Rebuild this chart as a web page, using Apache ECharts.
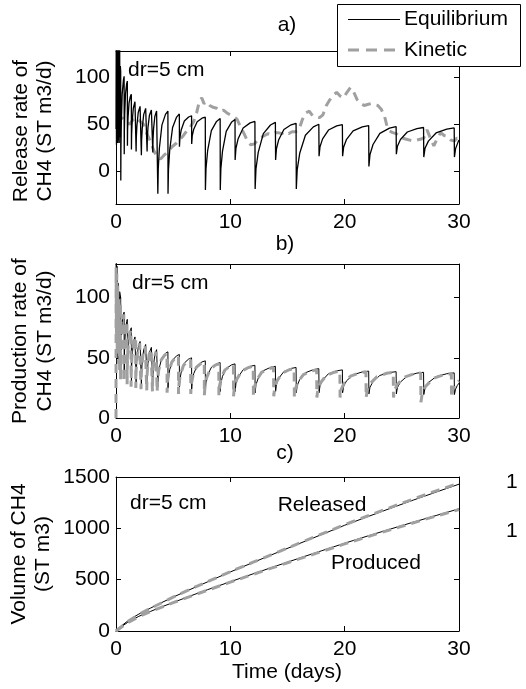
<!DOCTYPE html>
<html>
<head>
<meta charset="utf-8">
<script src="https://cdn.jsdelivr.net/npm/echarts@6/dist/echarts.min.js"></script>
<style>
html, body { margin: 0; padding: 0; background: #fff; }
#chart { width: 526px; height: 689px; }
</style>
</head>
<body>
<div id="chart"></div>
<script>
// tick labels
const xTicks = [0, 10, 20, 30];
const yTicksA = [0, 50, 100];
const yTicksB = [0, 50, 100];
const yTicksC = [0, 500, 1000, 1500];

// a) release rate, equilibrium  [day, ST m3/d]
const relEq = [
  [0, 45], [0.02, 140], [0.04, 28], [0.07, 140], [0.09, 31], [0.12, 140], [0.15, 30], [0.18, 140],
  [0.21, 33], [0.25, 140], [0.28, 30], [0.32, 135], [0.35, 36], [0.38, 112], [0.41, 106],
  [0.42, -10], [0.432, 23.3], [0.465, 51], [0.54, 82], [0.645, 96.6], [0.71, 101],
  [0.72, 18], [0.731, 41.4], [0.762, 60.9], [0.832, 82.7], [0.93, 92.9], [0.99, 96],
  [1.0, 27], [1.014, 43.5], [1.053, 57.3], [1.14, 72.7], [1.263, 79.8], [1.34, 82],
  [1.35, 23], [1.366, 38.9], [1.412, 52.2], [1.514, 67], [1.658, 73.9], [1.75, 76],
  [1.76, 21], [1.778, 36], [1.829, 48.5], [1.944, 62.5], [2.105, 69], [2.21, 71],
  [2.22, 17], [2.24, 32.6], [2.295, 45.6], [2.42, 60.2], [2.595, 66.9], [2.71, 69],
  [2.72, 21], [2.74, 34.8], [2.795, 46.3], [2.92, 59.2], [3.095, 65.2], [3.21, 67],
  [3.22, 20], [3.238, 33.8], [3.286, 45.3], [3.396, 58.2], [3.55, 64.2], [3.65, 66],
  [3.66, -24], [3.696, 2.4], [3.794, 24.4], [4.016, 49], [4.328, 60.5], [4.54, 64],
  [4.55, -24], [4.59, 1.5], [4.7, 22.8], [4.95, 46.6], [5.3, 57.6], [5.54, 61],
  [5.55, 26], [5.593, 35.9], [5.71, 44.2], [5.978, 53.4], [6.353, 57.7], [6.61, 59],
  [6.62, 29], [6.668, 37.6], [6.8, 44.7], [7.1, 52.7], [7.52, 56.4], [7.81, 57.5],
  [7.82, -20], [7.872, 2.8], [8.015, 21.8], [8.34, 43.1], [8.795, 53], [9.11, 56],
  [9.12, -20], [9.172, 2.5], [9.315, 21.3], [9.64, 42.3], [10.095, 52], [10.41, 55],
  [10.42, 12], [10.49, 24.3], [10.683, 34.6], [11.12, 46], [11.733, 51.4], [12.15, 53],
  [12.17, -19], [12.242, 2.3], [12.439, 20], [12.886, 39.9], [13.513, 49.2], [13.94, 52],
  [13.96, 12], [14.032, 23.7], [14.232, 33.5], [14.684, 44.4], [15.318, 49.4], [15.75, 51],
  [15.77, -19], [15.85, 1.7], [16.069, 19], [16.566, 38.3], [17.263, 47.2], [17.74, 50],
  [17.76, 16], [17.842, 26], [18.069, 34.4], [18.584, 43.8], [19.305, 48.2], [19.8, 49.5],
  [19.82, 16], [19.912, 25.8], [20.165, 33.9], [20.74, 43], [21.545, 47.2], [22.1, 48.5],
  [22.12, 5], [22.216, 17.8], [22.48, 28.4], [23.08, 40.3], [23.92, 45.8], [24.5, 47.5],
  [24.52, 18], [24.616, 26.6], [24.88, 33.7], [25.48, 41.7], [26.32, 45.4], [26.9, 46.5],
  [26.92, 15], [27.027, 24.3], [27.322, 32], [27.992, 40.7], [28.93, 44.8], [29.58, 46],
  [29.6, 15], [29.7, 24], [29.95, 32], [30, 33]
];

// a) release rate, kinetic
const relKin = [
  [0.1, 62], [0.3, 58], [0.6, 56], [0.9, 52], [1.2, 50], [1.5, 55], [1.8, 57], [2.1, 53],
  [2.4, 50], [2.7, 40], [3.0, 32], [3.3, 22], [3.6, 15], [3.9, 13], [4.2, 17], [4.5, 20],
  [4.9, 26], [5.3, 30], [5.6, 34], [5.9, 38], [6.2, 43], [6.5, 47], [6.8, 53], [7.05, 62],
  [7.3, 75], [7.5, 78], [7.7, 72], [7.9, 74], [8.2, 70], [8.5, 68], [8.8, 67], [9.1, 64],
  [9.4, 65], [9.7, 62], [10.0, 60], [10.3, 58], [10.6, 55], [10.9, 47], [11.2, 40], [11.5, 32],
  [11.8, 28], [12.1, 29], [12.4, 33], [12.7, 36], [13.0, 38], [13.3, 40], [13.6, 39], [13.9, 41],
  [14.2, 41], [14.5, 40], [14.8, 42], [15.1, 40], [15.4, 42], [15.7, 42], [16.0, 44], [16.3, 55],
  [16.6, 62], [16.9, 64], [17.2, 59], [17.5, 58], [17.8, 57], [18.1, 60], [18.4, 70], [18.7, 76],
  [19.0, 81], [19.3, 84], [19.6, 80], [19.9, 78], [20.2, 84], [20.5, 89], [20.8, 84], [21.1, 76],
  [21.4, 72], [21.7, 70], [22.0, 71], [22.3, 72], [22.6, 71], [22.9, 70], [23.2, 66], [23.5, 58],
  [23.7, 48], [23.9, 43], [24.2, 41], [24.5, 40], [24.8, 37], [25.1, 35], [25.4, 34], [25.7, 33],
  [26.0, 32], [26.3, 33], [26.6, 34], [26.9, 35], [27.2, 44], [27.5, 35], [27.8, 27], [28.1, 35],
  [28.4, 41], [28.7, 38], [29.0, 37], [29.3, 33], [29.6, 32], [29.8, 35], [30, 35]
];

// b) production rate, equilibrium
const prodEq = [
  [0, 118], [0.03, 135], [0.06, 60], [0.1, 126], [0.14, 50], [0.2, 112], [0.25, 45], [0.32, 105], [0.41, 100],
  [0.42, 38], [0.432, 53], [0.465, 65.5], [0.54, 79.5], [0.645, 86], [0.71, 88],
  [0.72, 35], [0.731, 49.1], [0.762, 60.9], [0.832, 74], [0.93, 80.1], [0.99, 82],
  [1.0, 32], [1.014, 44.9], [1.053, 55.7], [1.14, 67.7], [1.263, 73.3], [1.34, 75],
  [1.35, 30], [1.366, 41.7], [1.412, 51.5], [1.514, 62.4], [1.658, 67.4], [1.75, 69],
  [1.76, 29], [1.778, 39.8], [1.829, 48.8], [1.944, 58.9], [2.105, 63.6], [2.21, 65],
  [2.22, 28], [2.24, 38.4], [2.295, 47], [2.42, 56.6], [2.595, 61.1], [2.71, 62.5],
  [2.72, 27], [2.74, 36.9], [2.795, 45.2], [2.92, 54.4], [3.095, 58.7], [3.21, 60],
  [3.22, 27], [3.238, 36.3], [3.286, 44.1], [3.396, 52.7], [3.55, 56.8], [3.65, 58],
  [3.66, 26], [3.696, 34.7], [3.794, 42], [4.016, 50.1], [4.328, 53.8], [4.54, 55],
  [4.55, 25], [4.59, 33.3], [4.7, 40.3], [4.95, 48.1], [5.3, 51.7], [5.54, 52.8],
  [5.55, 24.5], [5.593, 32.2], [5.71, 38.5], [5.978, 45.7], [6.353, 49], [6.61, 50],
  [6.62, 24], [6.668, 31.1], [6.8, 36.9], [7.1, 43.5], [7.52, 46.6], [7.81, 47.5],
  [7.82, 23], [7.872, 29.9], [8.015, 35.7], [8.34, 42.1], [8.795, 45.1], [9.11, 46],
  [9.12, 22], [9.172, 28.9], [9.315, 34.7], [9.64, 41.1], [10.095, 44.1], [10.41, 45],
  [10.42, 22], [10.49, 28.5], [10.683, 34], [11.12, 40.1], [11.733, 42.9], [12.15, 43.8],
  [12.17, 21], [12.242, 27.6], [12.439, 33.1], [12.886, 39.3], [13.513, 42.1], [13.94, 43],
  [13.96, 22], [14.032, 28], [14.232, 33], [14.684, 38.6], [15.318, 41.2], [15.75, 42],
  [15.77, 21], [15.85, 27], [16.069, 32], [16.566, 37.6], [17.263, 40.2], [17.74, 41],
  [17.76, 21], [17.842, 26.7], [18.069, 31.5], [18.584, 36.8], [19.305, 39.2], [19.8, 40],
  [19.82, 21], [19.912, 26.4], [20.165, 30.9], [20.74, 35.9], [21.545, 38.3], [22.1, 39],
  [22.12, 20], [22.216, 25.6], [22.48, 30.2], [23.08, 35.4], [23.92, 37.8], [24.5, 38.5],
  [24.52, 20], [24.616, 25.4], [24.88, 29.9], [25.48, 34.9], [26.32, 37.3], [26.9, 38],
  [26.92, 19.5], [27.027, 24.9], [27.322, 29.4], [27.992, 34.4], [28.93, 36.8], [29.58, 37.5],
  [29.6, 19.5], [29.7, 24], [29.85, 27], [30, 29]
];

// b) production rate, kinetic
const prodKin = [
  [0, 0], [0.01, 125], [0.04, 70], [0.07, 120], [0.11, 55], [0.15, 110], [0.2, 45], [0.26, 100], [0.32, 40], [0.39, 95],
  [0.40, 32], [0.412, 48.2], [0.444, 61.7], [0.516, 76.8], [0.618, 83.8], [0.68, 86],
  [0.69, 30], [0.701, 45], [0.732, 57.5], [0.802, 71.5], [0.9, 78], [0.96, 80],
  [0.97, 28], [0.984, 41.5], [1.023, 52.8], [1.11, 65.4], [1.233, 71.2], [1.31, 73],
  [1.32, 26], [1.336, 38.5], [1.382, 48.8], [1.484, 60.4], [1.628, 65.8], [1.72, 67.5],
  [1.73, 25], [1.748, 36.6], [1.799, 46.2], [1.914, 57], [2.075, 62], [2.18, 63.5],
  [2.19, 24], [2.21, 35.1], [2.265, 44.4], [2.39, 54.7], [2.565, 59.5], [2.68, 61],
  [2.69, 23], [2.71, 33.7], [2.765, 42.5], [2.89, 52.5], [3.065, 57.1], [3.18, 58.5],
  [3.19, 22], [3.206, 32.4], [3.252, 41], [3.354, 50.6], [3.498, 55.1], [3.59, 56.5],
  [3.6, 22], [3.635, 31.5], [3.73, 39.3], [3.948, 48.1], [4.253, 52.2], [4.46, 53.5],
  [4.47, 21], [4.51, 30.2], [4.62, 37.8], [4.87, 46.3], [5.22, 50.3], [5.46, 51.5],
  [5.47, 20], [5.513, 28.6], [5.63, 35.7], [5.898, 43.7], [6.273, 47.4], [6.53, 48.5],
  [6.54, 20], [6.588, 28], [6.719, 34.6], [7.016, 42], [7.433, 45.4], [7.72, 46.5],
  [7.73, 19], [7.781, 26.8], [7.921, 33.3], [8.238, 40.6], [8.683, 44], [8.99, 45],
  [9.0, 19], [9.051, 26.5], [9.192, 32.8], [9.512, 39.8], [9.96, 43], [10.27, 44],
  [10.28, 18], [10.35, 25.5], [10.541, 31.8], [10.976, 38.8], [11.585, 42], [12.0, 43],
  [12.02, 18], [12.091, 25.2], [12.287, 31.2], [12.732, 37.9], [13.355, 41], [13.78, 42],
  [13.8, 18], [13.872, 24.9], [14.07, 30.7], [14.52, 37.1], [15.15, 40.1], [15.58, 41],
  [15.6, 17], [15.679, 23.9], [15.896, 29.7], [16.388, 36.1], [17.078, 39.1], [17.55, 40],
  [17.57, 17], [17.651, 23.6], [17.875, 29.1], [18.382, 35.3], [19.093, 38.1], [19.58, 39],
  [19.6, 17], [19.691, 23.5], [19.942, 28.8], [20.512, 34.8], [21.31, 37.6], [21.86, 38.5],
  [21.88, 17], [21.976, 23.3], [22.239, 28.6], [22.836, 34.4], [23.673, 37.2], [24.25, 38],
  [24.27, 17], [24.366, 23.2], [24.63, 28.3], [25.23, 34], [26.07, 36.7], [26.65, 37.5],
  [26.67, 13], [26.777, 20.2], [27.072, 26.2], [27.742, 32.9], [28.68, 36], [29.33, 37],
  [29.35, 17], [29.45, 23], [29.7, 29], [30, 31]
];

// c) cumulative volume [day, ST m3]
const volRelEq = [
  [0, 0], [0.5, 52], [1, 95], [1.5, 132], [2, 165], [3, 222], [4, 277], [5, 330], [6, 380], [7, 430],
  [8, 478], [9, 527], [10, 575], [12, 668], [14, 760], [16, 850], [18, 940], [20, 1030], [22, 1113],
  [24, 1195], [26, 1275], [28, 1353], [30, 1430]
];
const volRelKin = [
  [0, 0], [1, 90], [2, 162], [3, 220], [5, 330], [7, 432], [10, 578], [12, 670], [15, 808],
  [18, 945], [20, 1035], [22, 1120], [25, 1245], [28, 1365], [30, 1440]
];
const volProdEq = [
  [0, 0], [0.5, 45], [1, 82], [1.5, 114], [2, 143], [3, 190], [4, 235], [5, 278], [6, 320], [7, 362],
  [8, 402], [9, 441], [10, 480], [12, 557], [14, 633], [16, 708], [18, 782], [20, 855], [22, 925],
  [24, 993], [26, 1060], [28, 1125], [30, 1190]
];
const volProdKin = [
  [0, 0], [1, 80], [2, 140], [3, 188], [5, 276], [7, 358], [10, 476], [12, 552], [15, 665],
  [18, 775], [20, 848], [22, 918], [25, 1020], [28, 1120], [30, 1183]
];

const FONT = 'Liberation Sans, Arial, Helvetica, sans-serif';
const FS = 21;
const GRAY = '#a0a0a0';

function xAx(grid, top) {
  return {
    type: 'value', gridIndex: grid, position: top ? 'top' : 'bottom',
    min: 0, max: 30, interval: 10,
    axisLine: { show: true, onZero: false, lineStyle: { color: '#000', width: 1 } },
    axisTick: { show: true, inside: true, length: 5, customValues: xTicks, lineStyle: { color: '#000' } },
    axisLabel: { show: !top, customValues: xTicks, color: '#000', fontSize: FS, fontFamily: FONT, margin: 8,
      formatter: v => String(v) },
    splitLine: { show: false }
  };
}
function yAx(grid, right, min, max, ticks) {
  return {
    type: 'value', gridIndex: grid, position: right ? 'right' : 'left',
    min: min, max: max,
    axisLine: { show: true, onZero: false, lineStyle: { color: '#000', width: 1 } },
    axisTick: { show: true, inside: true, length: 5, customValues: ticks, lineStyle: { color: '#000' } },
    axisLabel: { show: !right, customValues: ticks, color: '#000', fontSize: FS, fontFamily: FONT, margin: 6,
      formatter: v => String(v) },
    splitLine: { show: false }
  };
}
function eq(data, ax, w) {
  return { type: 'line', data: data, xAxisIndex: ax, yAxisIndex: ax, showSymbol: false, symbol: 'none',
    lineStyle: { color: '#000', width: w }, animation: false, z: 3 };
}
function kin(data, ax, z) {
  return { type: 'line', data: data, xAxisIndex: ax, yAxisIndex: ax, showSymbol: false, symbol: 'none',
    lineStyle: { color: GRAY, width: 3, type: [9, 6] }, animation: false, z: z };
}
function txt(x, y, s, rot, align) {
  return { type: 'text', x: x, y: y, rotation: rot || 0, z: 120,
    style: { text: s, font: FS + 'px ' + FONT, fill: '#000',
      align: align || 'center', textAlign: align || 'center',
      verticalAlign: 'middle', textVerticalAlign: 'middle' } };
}

const chart = echarts.init(document.getElementById('chart'));
chart.setOption({
  backgroundColor: '#fff',
  animation: false,
  grid: [
    { left: 116, top: 51, width: 343, height: 153 },
    { left: 116, top: 264, width: 343, height: 154 },
    { left: 116, top: 477, width: 343, height: 154 }
  ],
  xAxis: [xAx(0, false), xAx(0, true), xAx(1, false), xAx(1, true), xAx(2, false), xAx(2, true)],
  yAxis: [
    yAx(0, false, -35, 128, yTicksA), yAx(0, true, -35, 128, yTicksA),
    yAx(1, false, 0, 128, yTicksB), yAx(1, true, 0, 128, yTicksB),
    yAx(2, false, 0, 1500, yTicksC), yAx(2, true, 0, 1500, yTicksC)
  ],
  series: [
    kin(relKin, 0, 2), eq(relEq, 0, 1.3),
    eq(prodEq, 2, 1), kin(prodKin, 2, 4),
    eq(volRelEq, 4, 1), eq(volProdEq, 4, 1), kin(volRelKin, 4, 4), kin(volProdKin, 4, 4)
  ],
  graphic: [
    txt(287, 25, 'a)'), txt(285, 244, 'b)'), txt(285, 453, 'c)'),
    txt(128, 70, 'dr=5 cm', 0, 'left'), txt(132, 283, 'dr=5 cm', 0, 'left'), txt(130, 503, 'dr=5 cm', 0, 'left'),
    txt(322, 505, 'Released'), txt(376, 563, 'Produced'),
    txt(506, 482, '1', 0, 'left'), txt(506, 531, '1', 0, 'left'),
    txt(287, 672, 'Time (days)'),
    txt(21, 131, 'Release rate of', Math.PI / 2), txt(45, 131, 'CH4 (ST m3/d)', Math.PI / 2),
    txt(20, 341, 'Production rate of', Math.PI / 2), txt(45, 341, 'CH4 (ST m3/d)', Math.PI / 2),
    txt(19, 554, 'Volume of CH4', Math.PI / 2), txt(43, 554, '(ST m3)', Math.PI / 2),
    { type: 'rect', z: 110, shape: { x: 337.5, y: 4.5, width: 183, height: 62 },
      style: { fill: '#fff', stroke: '#000', lineWidth: 1 } },
    { type: 'line', z: 111, shape: { x1: 348, y1: 19.5, x2: 400, y2: 19.5 },
      style: { stroke: '#000', lineWidth: 1.2 } },
    { type: 'line', z: 111, shape: { x1: 348, y1: 50, x2: 400, y2: 50 },
      style: { stroke: GRAY, lineWidth: 3, lineDash: [11, 7] } },
    txt(404, 19, 'Equilibrium', 0, 'left'), txt(404, 50, 'Kinetic', 0, 'left')
  ]
});
</script>
</body>
</html>
